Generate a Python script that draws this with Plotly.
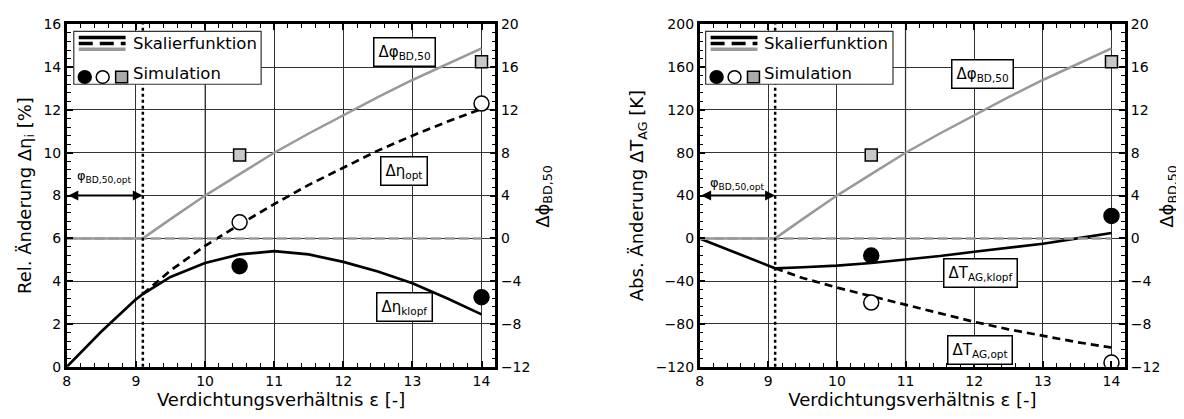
import plotly.graph_objects as go
from plotly.subplots import make_subplots

# page has an 8px body margin; figure is sized to fill the rest of the window
OFF = 8
FW, FH = 1184 - OFF, 419 - OFF

# ---------------- data ----------------
eps_range = [8, 14]
zero_line = [0, 0]
phi_opt = 9.1  # optimum phi boundary (compression ratio)

eps_phi = [8, 9.1, 9.5, 10, 10.5, 11, 11.5, 12, 12.5, 13, 13.5, 14]
phi_scal = [0, 0, 1.8, 4.0, 6.0, 8.0, 9.8, 11.5, 13.2, 14.8, 16.3, 17.75]

eps_klopf_eta = [8, 8.5, 9, 9.1, 9.5, 10, 10.5, 11, 11.5, 12, 12.5, 13, 13.5, 14]
eta_klopf = [0, 1.65, 3.15, 3.4, 4.2, 4.85, 5.25, 5.4, 5.25, 4.9, 4.45, 3.9, 3.2, 2.45]

eps_opt = [9.1, 9.5, 10, 10.5, 11, 11.5, 12, 12.5, 13, 13.5, 14]
eta_opt = [3.4, 4.5, 5.65, 6.65, 7.6, 8.5, 9.3, 10.1, 10.8, 11.45, 12.05]

eps_klopf_T = [8, 8.5, 9.1, 9.5, 10, 10.5, 11, 11.5, 12, 12.5, 13, 13.5, 14]
T_klopf = [0, -13, -28, -27, -25.5, -23, -20, -16.5, -12.5, -9, -5, 0, 5]
T_opt = [-28, -37, -46, -54, -62, -70, -78, -85, -91, -97, -102]

sim_eps = [10.5, 14]
sim_eta_klopf = [4.7, 3.25]
sim_eta_opt = [6.75, 12.3]
sim_phi = [7.8, 16.5]
sim_T_klopf = [-16, 21]
sim_T_opt = [-60, -116]

x_ticks = [8, 9, 10, 11, 12, 13, 14]
# ---------------------------------------

FONT = "DejaVu Sans"
BLACK = "#000000"
GRAY = "#999999"
SQ = "#c8c8c8"


def P(sx, sy):
    """screen pixel -> paper fraction"""
    return (sx - OFF) / FW, 1 - (sy - OFF) / FH


fig = make_subplots(rows=1, cols=2,
                    specs=[[{"secondary_y": True}, {"secondary_y": True}]])


def add_panel(col, eps_k, y_k, y_o, s_k, s_o):
    fig.add_trace(go.Scatter(x=eps_range, y=zero_line, mode="lines",
                             line=dict(color=GRAY, width=2.5, dash="10px,4px")),
                  row=1, col=col, secondary_y=True)
    fig.add_trace(go.Scatter(x=eps_phi, y=phi_scal, mode="lines",
                             line=dict(color=GRAY, width=2.5)),
                  row=1, col=col, secondary_y=True)
    fig.add_trace(go.Scatter(x=sim_eps, y=sim_phi, mode="markers",
                             marker=dict(symbol="square", size=12, color=SQ,
                                         line=dict(color=BLACK, width=1.5))),
                  row=1, col=col, secondary_y=True)
    fig.add_trace(go.Scatter(x=eps_opt, y=y_o, mode="lines",
                             line=dict(color=BLACK, width=2.7, dash="8px,5px")),
                  row=1, col=col, secondary_y=False)
    fig.add_trace(go.Scatter(x=eps_k, y=y_k, mode="lines",
                             line=dict(color=BLACK, width=2.7)),
                  row=1, col=col, secondary_y=False)
    fig.add_trace(go.Scatter(x=sim_eps, y=s_k, mode="markers",
                             marker=dict(symbol="circle", size=15, color=BLACK,
                                         line=dict(color=BLACK, width=1.5))),
                  row=1, col=col, secondary_y=False)
    fig.add_trace(go.Scatter(x=sim_eps, y=s_o, mode="markers",
                             marker=dict(symbol="circle", size=15, color="white",
                                         line=dict(color=BLACK, width=1.5))),
                  row=1, col=col, secondary_y=False)


add_panel(1, eps_klopf_eta, eta_klopf, eta_opt, sim_eta_klopf, sim_eta_opt)
add_panel(2, eps_klopf_T, T_klopf, T_opt, sim_T_klopf, sim_T_opt)

_, ytop = P(0, 16.7)
_, ybot = P(0, 373)
ydom = [ybot, ytop]
xdom1 = [P(63, 0)[0], P(493, 0)[0]]
xdom2 = [P(698, 0)[0], P(1125, 0)[0]]

tickfont = dict(family=FONT, size=14, color=BLACK)
titlefont = dict(family=FONT, size=18, color=BLACK)
minor_x = dict(dtick=0.2, ticks="inside", ticklen=4, tickcolor=BLACK,
               tickwidth=1.2, showgrid=False)

xcommon = dict(range=[8, 14.2], tickvals=x_ticks, ticks="inside", ticklen=6,
               tickwidth=1.5, tickcolor=BLACK, showline=True, linecolor=BLACK,
               linewidth=2.5, mirror="ticks", showgrid=True, gridcolor="#333333",
               gridwidth=1, zeroline=False, tickfont=tickfont, minor=minor_x,
               title=dict(text="Verdichtungsverhältnis ε [-]", font=titlefont,
                          standoff=6))
fig.update_layout(
    xaxis=dict(domain=xdom1, anchor="y", **xcommon),
    xaxis2=dict(domain=xdom2, anchor="y3", **xcommon),
)

ycommon = dict(ticks="inside", ticklen=6, tickwidth=1.5, tickcolor=BLACK,
               showline=True, linecolor=BLACK, linewidth=2.5, zeroline=False,
               tickfont=tickfont, domain=ydom)


def minor(d):
    return dict(dtick=d, ticks="inside", ticklen=4, tickcolor=BLACK,
                tickwidth=1.2)


fig.update_layout(
    yaxis=dict(range=[0, 16], dtick=2, showgrid=True, gridcolor="#333333",
               gridwidth=1, minor=minor(0.4), anchor="x",
               title=dict(text="Rel. Änderung Δη<sub>i</sub> [%]",
                          font=titlefont, standoff=8), **ycommon),
    yaxis2=dict(range=[-12, 20], dtick=4, showgrid=False, side="right",
                overlaying="y", anchor="x", minor=minor(0.8), **ycommon),
    yaxis3=dict(range=[-120, 200], dtick=40, showgrid=True,
                gridcolor="#333333", gridwidth=1, anchor="x2",
                minor=minor(8),
                title=dict(text="Abs. Änderung ΔT<sub>AG</sub> [K]",
                           font=titlefont, standoff=8), **ycommon),
    yaxis4=dict(range=[-12, 20], dtick=4, showgrid=False, side="right",
                overlaying="y3", anchor="x2", minor=minor(0.8), **ycommon),
)

shapes = []
for xr, yr, xg in (("x", "y domain", 10), ("x2", "y3 domain", 11)):
    shapes.append(dict(type="line", xref=xr, yref=yr, x0=xg, x1=xg, y0=0,
                       y1=1, layer="below",
                       line=dict(color="#888888", width=1.5)))
for xr, yr in (("x", "y domain"), ("x2", "y3 domain")):
    shapes.append(dict(type="line", xref=xr, yref=yr, x0=phi_opt, x1=phi_opt,
                       y0=0, y1=1, line=dict(color=BLACK, width=2.5, dash="dot")))

annotations = []
# secondary axis titles
for sx in (541, 1168):
    a, b = P(sx, 196)
    annotations.append(dict(xref="paper", yref="paper", x=a, y=b,
                            text="Δϕ<sub>BD,50</sub>", textangle=-90,
                            showarrow=False, xanchor="center", yanchor="middle",
                            font=dict(family=FONT, size=18, color=BLACK)))

# custom legends
for off in (0, 634):
    x0, y0 = P(70 + off, 24)
    x1, y1 = P(258 + off, 79)
    shapes.append(dict(type="rect", xref="paper", yref="paper", x0=x0, x1=x1,
                       y0=y1, y1=y0, fillcolor="white",
                       line=dict(color="#333333", width=1.2)))
    for yy, col, dash in ((30.5, BLACK, "solid"), (36.5, BLACK, "14px,7px"),
                          (42.5, GRAY, "solid")):
        a0, b0 = P(75 + off, yy)
        a1, _ = P(122 + off, yy)
        shapes.append(dict(type="line", xref="paper", yref="paper", x0=a0,
                           x1=a1, y0=b0, y1=b0,
                           line=dict(color=col, width=3.5, dash=dash)))
    for cx, fill in ((81, BLACK), (99, "white")):
        a0, b0 = P(cx - 6.5 + off, 65)
        a1, b1 = P(cx + 6.5 + off, 78)
        shapes.append(dict(type="circle", xref="paper", yref="paper", x0=a0,
                           x1=a1, y0=b1, y1=b0, fillcolor=fill,
                           line=dict(color=BLACK, width=1.5)))
    a0, b0 = P(112 + off, 65.5)
    a1, b1 = P(124 + off, 77.5)
    shapes.append(dict(type="rect", xref="paper", yref="paper", x0=a0, x1=a1,
                       y0=b1, y1=b0, fillcolor="#aaaaaa",
                       line=dict(color=BLACK, width=1.5)))
    for yy, txt in ((37, "Skalierfunktion"), (67.5, "Simulation")):
        a, b = P(127 + off, yy)
        annotations.append(dict(xref="paper", yref="paper", x=a, y=b,
                                text=txt, showarrow=False, xanchor="left",
                                yanchor="middle",
                                font=dict(family=FONT, size=16.5, color=BLACK)))

# double arrows for phi_opt
for xr, yr, ya, yl in (("x", "y", 8, 8.9), ("x2", "y3", 40, 51)):
    annotations.append(dict(xref=xr, yref=yr, x=phi_opt, y=ya, ax=8, ay=ya,
                            axref=xr, ayref=yr, text="", showarrow=True,
                            arrowhead=2, startarrowhead=2, arrowside="end+start",
                            arrowwidth=2, arrowsize=1, arrowcolor=BLACK,
                            standoff=0, startstandoff=0))
    annotations.append(dict(xref=xr, yref=yr, x=(8 + phi_opt) / 2, y=yl,
                            text="φ<sub>BD,50,opt</sub>", showarrow=False,
                            font=dict(family=FONT, size=13, color=BLACK)))

box = dict(showarrow=False, bgcolor="white", bordercolor=BLACK,
           borderwidth=1.5, borderpad=4,
           font=dict(family=FONT, size=15, color=BLACK))
annotations += [
    dict(xref="x", yref="y", x=12.88, y=14.7, text="Δφ<sub>BD,50</sub>", **box),
    dict(xref="x", yref="y", x=12.88, y=9.15, text="Δη<sub>opt</sub>", **box),
    dict(xref="x", yref="y", x=12.88, y=2.8, text="Δη<sub>klopf</sub>", **box),
    dict(xref="x2", yref="y3", x=12.12, y=153.5, text="Δφ<sub>BD,50</sub>", **box),
    dict(xref="x2", yref="y3", x=12.09, y=-32.5, text="ΔT<sub>AG,klopf</sub>", **box),
    dict(xref="x2", yref="y3", x=12.09, y=-104.7, text="ΔT<sub>AG,opt</sub>", **box),
]

fig.update_layout(width=FW, height=FH, margin=dict(l=0, r=0, t=0, b=0),
                  showlegend=False, plot_bgcolor="white", paper_bgcolor="white",
                  font=dict(family=FONT, color=BLACK),
                  shapes=shapes, annotations=annotations)

fig.write_html("out.html")
